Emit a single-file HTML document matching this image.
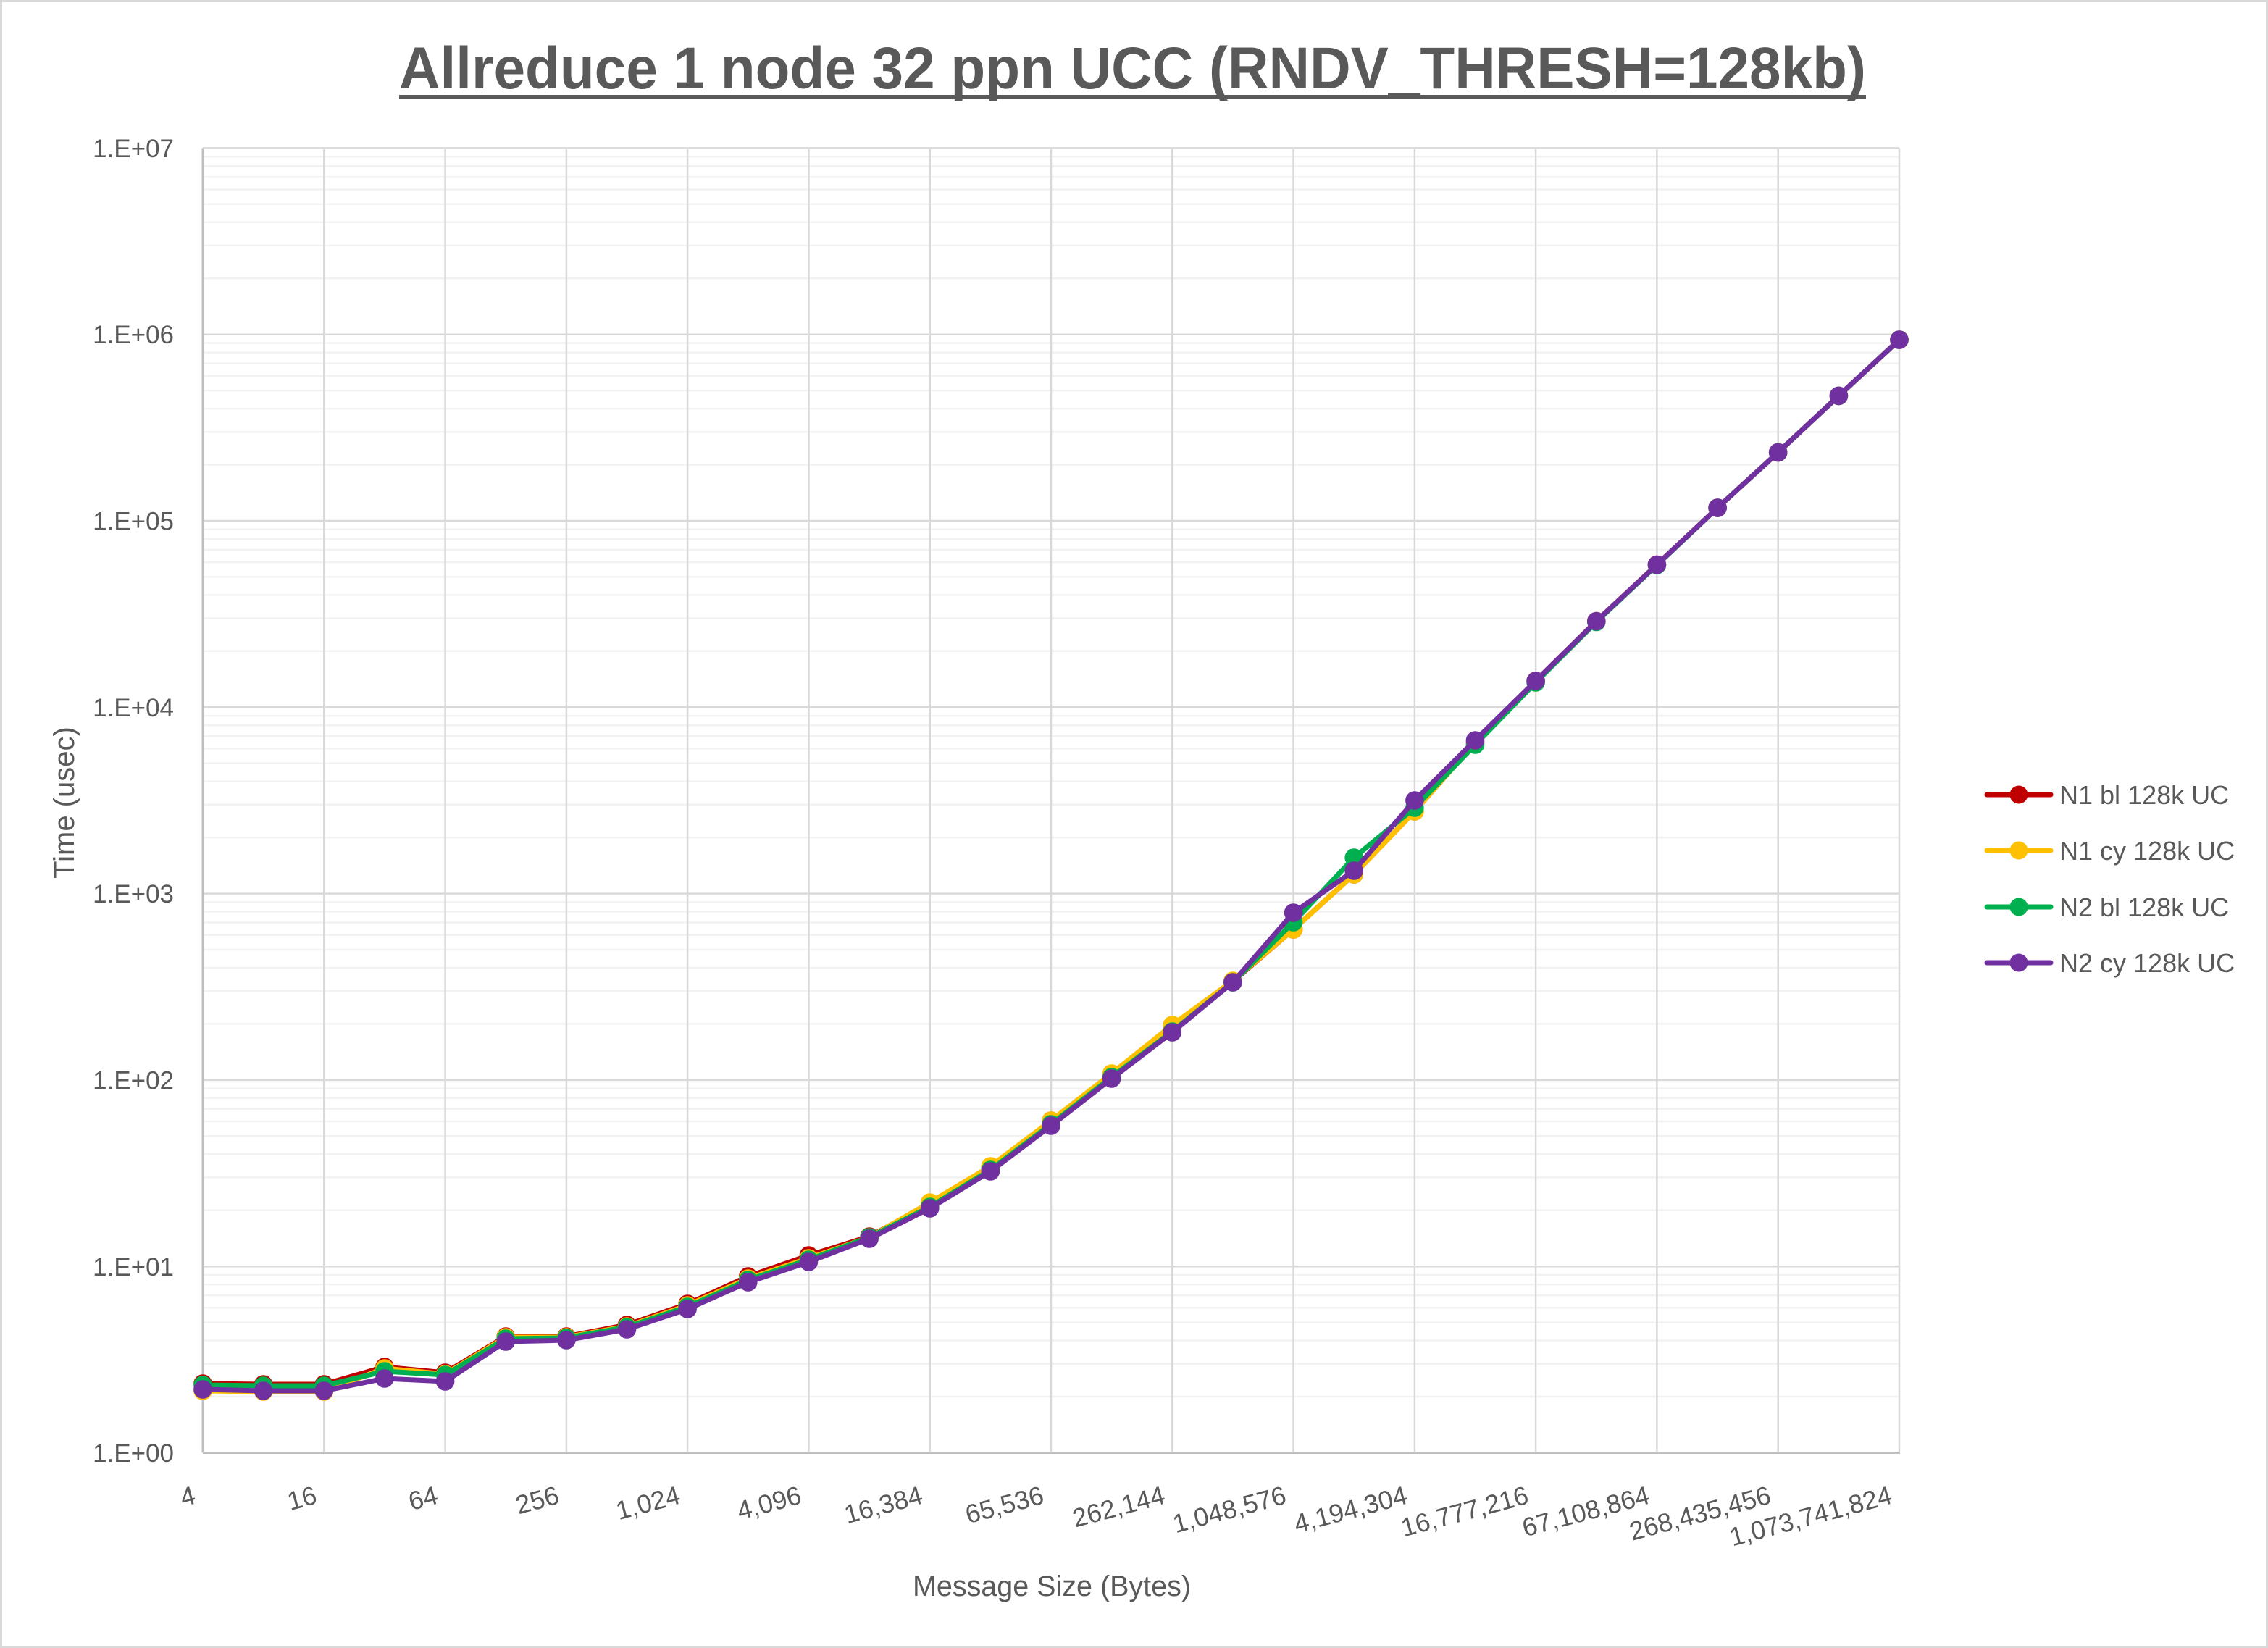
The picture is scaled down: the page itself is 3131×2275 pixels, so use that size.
<!DOCTYPE html>
<html>
<head>
<meta charset="utf-8">
<style>
html,body{margin:0;padding:0;background:#fff;}
svg{display:block;}
text{font-family:"Liberation Sans",sans-serif;fill:#595959;}
</style>
</head>
<body>
<svg width="3131" height="2275" viewBox="0 0 3131 2275" xmlns="http://www.w3.org/2000/svg">
<defs>
<marker id="mr" markerWidth="28" markerHeight="28" refX="14" refY="14" markerUnits="userSpaceOnUse"><circle cx="14" cy="14" r="12.8" fill="#C00000"/></marker>
<marker id="my" markerWidth="28" markerHeight="28" refX="14" refY="14" markerUnits="userSpaceOnUse"><circle cx="14" cy="14" r="12.8" fill="#FFC000"/></marker>
<marker id="mg" markerWidth="28" markerHeight="28" refX="14" refY="14" markerUnits="userSpaceOnUse"><circle cx="14" cy="14" r="12.8" fill="#00B050"/></marker>
<marker id="mp" markerWidth="28" markerHeight="28" refX="14" refY="14" markerUnits="userSpaceOnUse"><circle cx="14" cy="14" r="12.8" fill="#7030A0"/></marker>
</defs>
<rect x="0" y="0" width="3131" height="2275" fill="#fff"/>
<rect x="1.5" y="1.5" width="3128" height="2272" fill="none" stroke="#d9d9d9" stroke-width="3"/>

<!-- Title -->
<text x="551" y="122" font-size="82" font-weight="bold" textLength="2025" lengthAdjust="spacingAndGlyphs">Allreduce 1 node 32 ppn UCC (RNDV_THRESH=128kb)</text>
<rect x="551" y="131" width="2025" height="5" fill="#595959"/>

<!-- minor gridlines -->
<path fill="none" stroke="#f2f2f2" stroke-width="2.5" d="
M280 1928H2622M280 1882.7H2622M280 1850.6H2622M280 1825.6H2622M280 1805.3H2622M280 1788.1H2622M280 1773.1H2622M280 1760H2622
M280 1670.7H2622M280 1625.4H2622M280 1593.3H2622M280 1568.3H2622M280 1548H2622M280 1530.8H2622M280 1515.8H2622M280 1502.7H2622
M280 1413.4H2622M280 1368.1H2622M280 1336H2622M280 1311H2622M280 1290.7H2622M280 1273.5H2622M280 1258.5H2622M280 1245.4H2622
M280 1156.1H2622M280 1110.8H2622M280 1078.7H2622M280 1053.7H2622M280 1033.4H2622M280 1016.2H2622M280 1001.2H2622M280 988.1H2622
M280 898.8H2622M280 853.5H2622M280 821.4H2622M280 796.4H2622M280 776.1H2622M280 758.9H2622M280 743.9H2622M280 730.8H2622
M280 641.5H2622M280 596.2H2622M280 564.1H2622M280 539.1H2622M280 518.8H2622M280 501.6H2622M280 486.6H2622M280 473.5H2622
M280 384.2H2622M280 338.9H2622M280 306.8H2622M280 281.8H2622M280 261.5H2622M280 244.3H2622M280 229.3H2622M280 216.2H2622"/>

<!-- major vertical gridlines -->
<path fill="none" stroke="#d9d9d9" stroke-width="2.5" d="
M447.3 204.4V2005.5M614.6 204.4V2005.5M781.9 204.4V2005.5M949.1 204.4V2005.5M1116.4 204.4V2005.5M1283.7 204.4V2005.5M1451 204.4V2005.5
M1618.3 204.4V2005.5M1785.6 204.4V2005.5M1952.9 204.4V2005.5M2120.1 204.4V2005.5M2287.4 204.4V2005.5M2454.7 204.4V2005.5M2622 204.4V2005.5"/>
<!-- major horizontal gridlines -->
<path fill="none" stroke="#d9d9d9" stroke-width="2.5" d="
M280 1748.2H2622M280 1490.9H2622M280 1233.6H2622M280 976.3H2622M280 719H2622M280 461.7H2622M280 204.4H2622"/>
<!-- axes -->
<path fill="none" stroke="#bfbfbf" stroke-width="3" d="M280 204.4V2005.5M280 2005.5H2623"/>

<!-- Y labels -->
<g font-size="35" text-anchor="end">
<text x="240" y="2018">1.E+00</text>
<text x="240" y="1761">1.E+01</text>
<text x="240" y="1503.5">1.E+02</text>
<text x="240" y="1246">1.E+03</text>
<text x="240" y="989">1.E+04</text>
<text x="240" y="731.5">1.E+05</text>
<text x="240" y="474">1.E+06</text>
<text x="240" y="217">1.E+07</text>
</g>

<!-- X labels -->
<g font-size="36" text-anchor="end">
<text transform="translate(272,2075) rotate(-15)">4</text>
<text transform="translate(439.3,2075) rotate(-15)">16</text>
<text transform="translate(606.6,2075) rotate(-15)">64</text>
<text transform="translate(773.9,2075) rotate(-15)">256</text>
<text transform="translate(941.1,2075) rotate(-15)">1,024</text>
<text transform="translate(1108.4,2075) rotate(-15)">4,096</text>
<text transform="translate(1275.7,2075) rotate(-15)">16,384</text>
<text transform="translate(1443,2075) rotate(-15)">65,536</text>
<text transform="translate(1610.3,2075) rotate(-15)">262,144</text>
<text transform="translate(1777.6,2075) rotate(-15)">1,048,576</text>
<text transform="translate(1944.9,2075) rotate(-15)">4,194,304</text>
<text transform="translate(2112.1,2075) rotate(-15)">16,777,216</text>
<text transform="translate(2279.4,2075) rotate(-15)">67,108,864</text>
<text transform="translate(2446.7,2075) rotate(-15)">268,435,456</text>
<text transform="translate(2614,2075) rotate(-15)">1,073,741,824</text>
</g>

<!-- Axis titles -->
<text x="1452" y="2203" font-size="40" text-anchor="middle" textLength="384" lengthAdjust="spacingAndGlyphs">Message Size (Bytes)</text>
<text transform="translate(102,1108) rotate(-90)" font-size="40" text-anchor="middle">Time (usec)</text>

<!-- Series -->
<g fill="none" stroke-width="7" stroke-linejoin="round" stroke-linecap="round">
<polyline stroke="#C00000" marker-start="url(#mr)" marker-mid="url(#mr)" marker-end="url(#mr)" points="280,1910 363.6,1911 447.3,1911 530.9,1887 614.6,1895 698.2,1845 781.9,1845 865.5,1829 949.1,1800 1032.8,1762 1116.4,1733 1200.1,1707 1283.7,1662 1367.4,1612 1451,1547 1534.6,1483 1618.3,1417 1701.9,1355 1785.6,1283 1869.2,1207 1952.9,1120 2036.5,1025 2120.1,940 2203.8,857.6 2287.4,779.5 2371.1,701 2454.7,624.5 2538.4,546.4 2622,469"/>
<polyline stroke="#FFC000" marker-start="url(#my)" marker-mid="url(#my)" marker-end="url(#my)" points="280,1920 363.6,1921 447.3,1921 530.9,1889 614.6,1897 698.2,1846 781.9,1846 865.5,1831 949.1,1802 1032.8,1765 1116.4,1737 1200.1,1708 1283.7,1660 1367.4,1610 1451,1547 1534.6,1482 1618.3,1415 1701.9,1354 1785.6,1283 1869.2,1207 1952.9,1120 2036.5,1025 2120.1,940 2203.8,857.6 2287.4,779.5 2371.1,701 2454.7,624.5 2538.4,546.4 2622,469"/>
<polyline stroke="#00B050" marker-start="url(#mg)" marker-mid="url(#mg)" marker-end="url(#mg)" points="280,1912 363.6,1913 447.3,1913 530.9,1893 614.6,1898 698.2,1848 781.9,1847 865.5,1832 949.1,1804 1032.8,1767 1116.4,1739 1200.1,1708 1283.7,1666 1367.4,1615 1451,1552 1534.6,1487 1618.3,1424 1701.9,1356 1785.6,1273 1869.2,1184 1952.9,1115 2036.5,1028 2120.1,942 2203.8,858.5 2287.4,780 2371.1,701 2454.7,624.5 2538.4,546.4 2622,469"/>
<polyline stroke="#7030A0" marker-start="url(#mp)" marker-mid="url(#mp)" marker-end="url(#mp)" points="280,1918 363.6,1920 447.3,1920 530.9,1903 614.6,1907 698.2,1852 781.9,1850 865.5,1835 949.1,1807 1032.8,1770 1116.4,1742 1200.1,1710 1283.7,1668 1367.4,1617 1451,1554 1534.6,1489 1618.3,1425 1701.9,1356 1785.6,1260 1869.2,1202 1952.9,1105 2036.5,1022 2120.1,940 2203.8,857.6 2287.4,779.5 2371.1,701 2454.7,624.5 2538.4,546.4 2622,469"/>
</g>

<!-- Legend -->
<g stroke-width="7" stroke-linecap="round">
<line x1="2743" y1="1097" x2="2831" y2="1097" stroke="#C00000"/>
<line x1="2743" y1="1174" x2="2831" y2="1174" stroke="#FFC000"/>
<line x1="2743" y1="1252" x2="2831" y2="1252" stroke="#00B050"/>
<line x1="2743" y1="1329" x2="2831" y2="1329" stroke="#7030A0"/>
</g>
<circle cx="2787" cy="1097" r="12.5" fill="#C00000"/>
<circle cx="2787" cy="1174" r="12.5" fill="#FFC000"/>
<circle cx="2787" cy="1252" r="12.5" fill="#00B050"/>
<circle cx="2787" cy="1329" r="12.5" fill="#7030A0"/>
<g font-size="36">
<text x="2843" y="1110">N1 bl 128k UC</text>
<text x="2843" y="1187">N1 cy 128k UC</text>
<text x="2843" y="1265">N2 bl 128k UC</text>
<text x="2843" y="1342">N2 cy 128k UC</text>
</g>
</svg>
</body>
</html>
